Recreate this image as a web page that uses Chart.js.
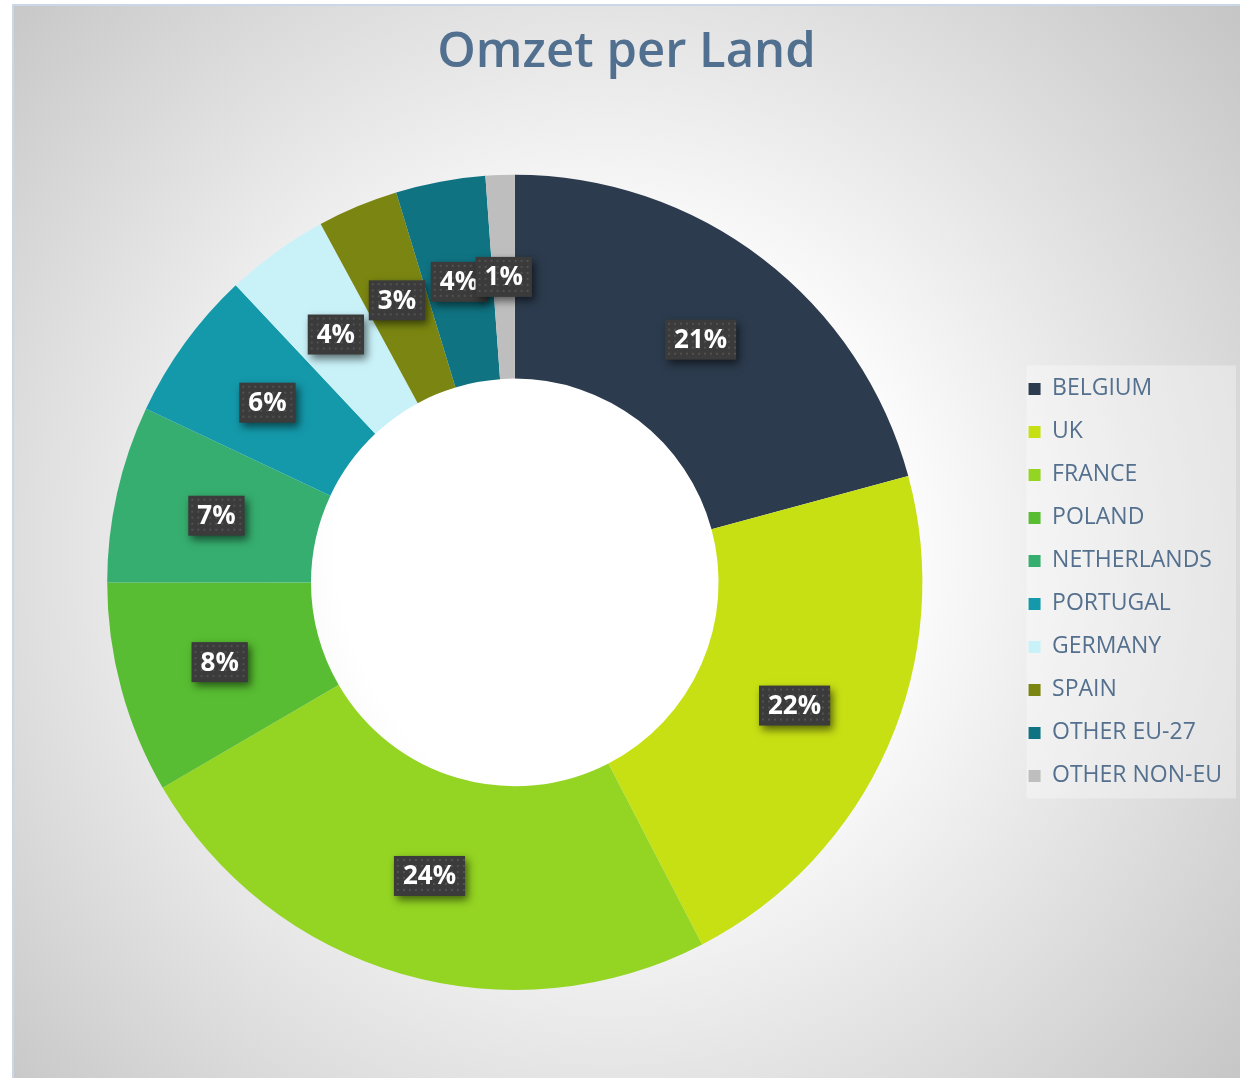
<!DOCTYPE html>
<html>
<head>
<meta charset="utf-8">
<script src="https://cdn.jsdelivr.net/npm/chart.js@4.4.1/dist/chart.umd.min.js"></script>
<style>
  html, body { margin: 0; padding: 0; background: #fff; }
  #frame {
    position: absolute; left: 12px; top: 4px; width: 1240px; height: 1090px;
    border-top: 2px solid #c9d7e6; border-left: 2px solid #c9d7e6;
    background: radial-gradient(circle farthest-corner at 48% 50%, #ffffff 32%, #c4c4c4 100%);
  }
  #chart { position: absolute; left: 0; top: 0; }
</style>
</head>
<body>
<div id="frame"></div>
<canvas id="chart" width="1240" height="1078"></canvas>
<script>
// omzet per land, aandeel in %
const countries = ["BELGIUM", "UK", "FRANCE", "POLAND", "NETHERLANDS", "PORTUGAL", "GERMANY", "SPAIN", "OTHER EU-27", "OTHER NON-EU"];
const shares = [20.8, 21.6, 24.2, 8.4, 7.0, 6.0, 4.1, 3.2, 3.55, 1.15];
const sliceColors = ["#2c3b4d", "#c7e014", "#94d422", "#58bd32", "#36ae6f", "#1499aa", "#c9f2f8", "#7a8611", "#107382", "#bebebe"];

const FONT = "'Open Sans', 'DejaVu Sans', sans-serif";

// lichte achtergrond achter de legenda
const legendBox = {
  id: "legendBox",
  beforeDraw(chart) {
    const lg = chart.legend;
    if (!lg || !lg.legendHitBoxes.length) return;
    const hb = lg.legendHitBoxes;
    const ctx = chart.ctx;
    const x0 = hb[0].left - 2;
    const y0 = hb[0].top - 12;
    const y1 = hb[hb.length - 1].top + hb[hb.length - 1].height + 11;
    ctx.save();
    ctx.fillStyle = "rgba(255,255,255,0.32)";
    ctx.fillRect(x0, y0, lg.right + 4 - x0, y1 - y0);
    ctx.restore();
  }
};

// donkere labels met stippenpatroon en schaduw
const pctLabels = {
  id: "pctLabels",
  afterDatasetsDraw(chart) {
    const ctx = chart.ctx;
    const meta = chart.getDatasetMeta(0);
    const data = chart.data.datasets[0].data;
    const total = data.reduce((a, b) => a + b, 0);
    ctx.save();
    ctx.font = "bold 26px " + FONT;
    meta.data.forEach((arc, i) => {
      const txt = Math.round(data[i] / total * 100) + "%";
      const p = arc.tooltipPosition();
      const w = ctx.measureText(txt).width + 18;
      const h = 40;
      const x = p.x - w / 2, y = p.y - h / 2;
      ctx.save();
      ctx.shadowColor = "rgba(0,0,0,0.55)";
      ctx.shadowBlur = 8;
      ctx.shadowOffsetX = 3;
      ctx.shadowOffsetY = 4;
      ctx.fillStyle = "#3b3b3b";
      ctx.fillRect(x, y, w, h);
      ctx.restore();
      ctx.fillStyle = "#525252";
      for (let dy = 3; dy < h - 1; dy += 6) {
        for (let dx = 3; dx < w - 1; dx += 6) {
          ctx.fillRect(x + dx, y + dy, 2, 2);
        }
      }
      ctx.fillStyle = "#ffffff";
      ctx.textAlign = "center";
      ctx.textBaseline = "middle";
      ctx.fillText(txt, p.x, p.y + 1);
    });
    ctx.restore();
  }
};

new Chart(document.getElementById("chart"), {
  type: "doughnut",
  data: {
    labels: countries,
    datasets: [{
      data: shares,
      backgroundColor: sliceColors,
      borderWidth: 0
    }]
  },
  options: {
    responsive: false,
    animation: false,
    devicePixelRatio: 1,
    cutout: "50%",
    layout: { padding: { left: 21, right: 8, top: 0, bottom: 88 } },
    plugins: {
      title: {
        display: true,
        text: "Omzet per Land",
        color: "#51708f",
        font: { family: FONT, size: 49, weight: "600" },
        padding: { top: 24, bottom: 92 }
      },
      legend: {
        position: "right",
        fullSize: false,
        labels: {
          color: "#54708e",
          font: { family: FONT, size: 23, weight: "500" },
          boxWidth: 12,
          boxHeight: 12,
          padding: 20
        }
      },
      tooltip: { enabled: false }
    }
  },
  plugins: [legendBox, pctLabels]
});
</script>
</body>
</html>
